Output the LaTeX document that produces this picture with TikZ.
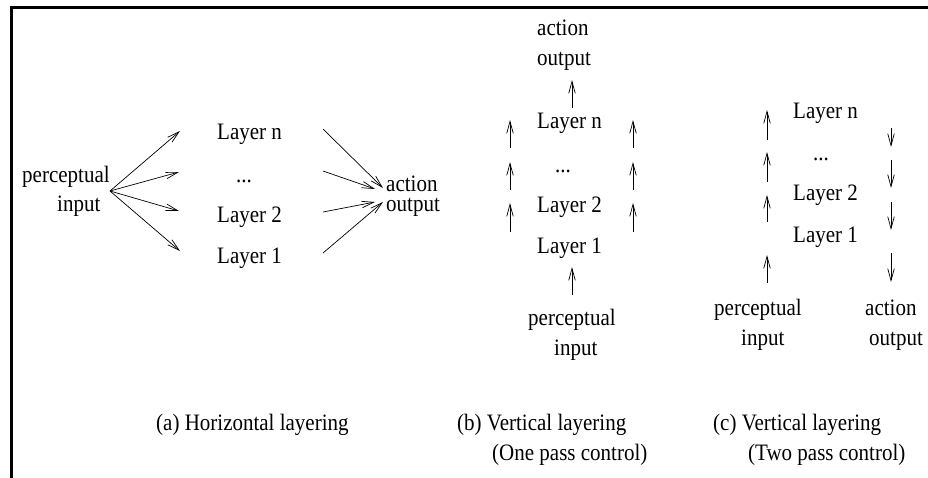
\documentclass[tikz,border=0pt]{standalone}
\usepackage{fontspec}
\setmainfont{Liberation Serif}
\usetikzlibrary{arrows.meta}
\newcommand{\tallt}[1]{\scalebox{1}[1.12]{#1}}
\tikzset{
  lbl/.style={anchor=base west, inner sep=0pt, font=\fontsize{21}{25}\selectfont},
  arr/.style={line width=0.7pt, -{Straight Barb[length=12pt,width=6.5pt,line width=0.7pt]}},
  frame/.style={line width=3pt}
}
\begin{document}
\begin{tikzpicture}[x=1pt,y=-1pt]
\useasboundingbox (0,0) rectangle (928,477);
\draw[frame] (928,7) -- (11.5,7) -- (11.5,478);
% (a) horizontal layering
\node[lbl] (aper) at (22,182) {\tallt{perceptual}};
\node[lbl] (ainp) at (57,211) {\tallt{input}};
\node[lbl] (aln) at (217,139) {\tallt{Layer n}};
\node[lbl] (adot) at (236,182) {\tallt{...}};
\node[lbl] (al2) at (217,222) {\tallt{Layer 2}};
\node[lbl] (al1) at (217,263) {\tallt{Layer 1}};
\node[lbl] (aact) at (386,191) {\tallt{action}};
\node[lbl] (aout) at (386,211) {\tallt{output}};
\coordinate (asrc) at (110,191);
\coordinate (a1) at (180,131);
\coordinate (a2) at (179,172);
\coordinate (a3) at (179,211);
\coordinate (a4) at (180,251);
\draw[arr] (asrc) -- (a1);
\draw[arr] (asrc) -- (a2);
\draw[arr] (asrc) -- (a3);
\draw[arr] (asrc) -- (a4);
\coordinate (b1) at (323,129); \coordinate (c1) at (383,188);
\coordinate (b2) at (323,171); \coordinate (c2) at (375,189);
\coordinate (b3) at (323,212); \coordinate (c3) at (375,202);
\coordinate (b4) at (323,253); \coordinate (c4) at (383,202);
\draw[arr] (b1) -- (c1);
\draw[arr] (b2) -- (c2);
\draw[arr] (b3) -- (c3);
\draw[arr] (b4) -- (c4);
% (b) vertical layering, one pass
\node[lbl] (bact) at (537,35) {\tallt{action}};
\node[lbl] (bout) at (537,65) {\tallt{output}};
\node[lbl] (bln) at (537,128) {\tallt{Layer n}};
\node[lbl] (bdot) at (555,172) {\tallt{...}};
\node[lbl] (bl2) at (537,212) {\tallt{Layer 2}};
\node[lbl] (bl1) at (537,253) {\tallt{Layer 1}};
\node[lbl] (bper) at (528,325) {\tallt{perceptual}};
\node[lbl] (binp) at (554,355) {\tallt{input}};
\coordinate (bt0) at (572,108); \coordinate (bt1) at (572,80);
\coordinate (bb0) at (572,295); \coordinate (bb1) at (572,267);
\draw[arr] (bt0) -- (bt1);
\draw[arr] (bb0) -- (bb1);
\foreach \x/\n in {510/L,633/R}{
  \coordinate (b\n s1) at (\x,148); \coordinate (b\n e1) at (\x,120);
  \coordinate (b\n s2) at (\x,190); \coordinate (b\n e2) at (\x,162);
  \coordinate (b\n s3) at (\x,232); \coordinate (b\n e3) at (\x,203);
  \draw[arr] (b\n s1) -- (b\n e1);
  \draw[arr] (b\n s2) -- (b\n e2);
  \draw[arr] (b\n s3) -- (b\n e3);
}
% (c) vertical layering, two pass
\node[lbl] (cln) at (793,118) {\tallt{Layer n}};
\node[lbl] (cdot) at (813,160) {\tallt{...}};
\node[lbl] (cl2) at (793,200) {\tallt{Layer 2}};
\node[lbl] (cl1) at (793,242) {\tallt{Layer 1}};
\node[lbl] (cper) at (714,315) {\tallt{perceptual}};
\node[lbl] (cinp) at (741,345) {\tallt{input}};
\node[lbl] (cact) at (865,315) {\tallt{action}};
\node[lbl] (cout) at (869,345) {\tallt{output}};
\coordinate (cLs1) at (767,140); \coordinate (cLe1) at (767,110);
\coordinate (cLs2) at (767,182); \coordinate (cLe2) at (767,152);
\coordinate (cLs3) at (767,222); \coordinate (cLe3) at (767,195);
\coordinate (cLs4) at (767,283); \coordinate (cLe4) at (767,255);
\draw[arr] (cLs1) -- (cLe1);
\draw[arr] (cLs2) -- (cLe2);
\draw[arr] (cLs3) -- (cLe3);
\draw[arr] (cLs4) -- (cLe4);
\coordinate (cRs1) at (891,128); \coordinate (cRe1) at (891,147);
\coordinate (cRs2) at (891,160); \coordinate (cRe2) at (891,188);
\coordinate (cRs3) at (891,202); \coordinate (cRe3) at (891,230);
\coordinate (cRs4) at (891,253); \coordinate (cRe4) at (891,282);
\draw[arr] (cRs1) -- (cRe1);
\draw[arr] (cRs2) -- (cRe2);
\draw[arr] (cRs3) -- (cRe3);
\draw[arr] (cRs4) -- (cRe4);
% captions
\node[lbl] (capa) at (156,430) {\tallt{(a) Horizontal layering}};
\node[lbl] (capb1) at (457,430) {\tallt{(b) Vertical layering}};
\node[lbl] (capb2) at (492,460) {\tallt{(One pass control)}};
\node[lbl] (capc1) at (713,430) {\tallt{(c) Vertical layering}};
\node[lbl] (capc2) at (748,460) {\tallt{(Two pass control)}};
\end{tikzpicture}
\end{document}
